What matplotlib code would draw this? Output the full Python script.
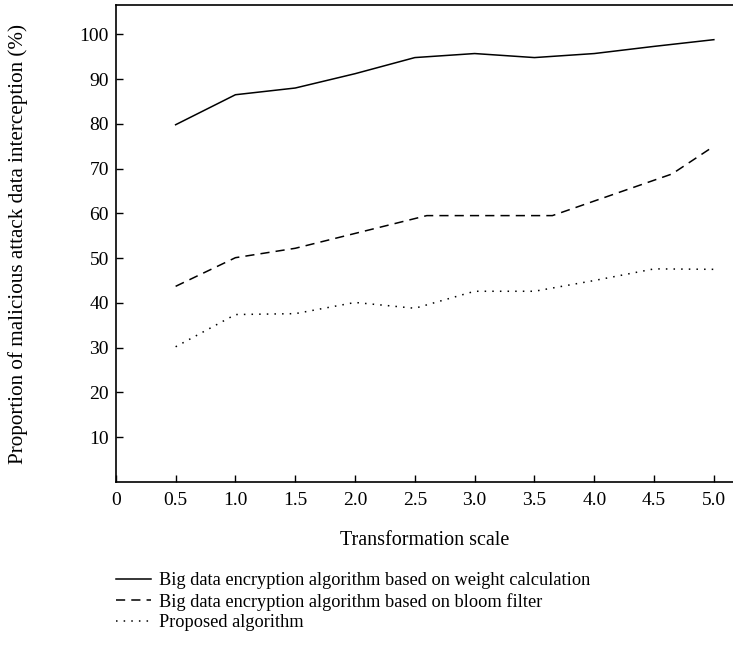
import matplotlib
matplotlib.use("Agg")
import matplotlib.pyplot as plt

plt.rcParams['font.family'] = ['Liberation Serif', 'DejaVu Serif']

# data
x_weight = [0.5, 1.0, 1.5, 2.0, 2.5, 3.0, 3.5, 4.0, 4.5, 5.0]
y_weight = [79.8, 86.5, 88.0, 91.2, 94.8, 95.7, 94.8, 95.7, 97.3, 98.8]

x_bloom = [0.5, 1.0, 1.5, 2.6, 3.65, 4.65, 5.0]
y_bloom = [43.7, 50.1, 52.2, 59.5, 59.5, 68.8, 75.0]

x_prop = [0.5, 1.0, 1.5, 2.0, 2.5, 3.0, 3.5, 4.0, 4.5, 5.0]
y_prop = [30.2, 37.4, 37.6, 40.1, 38.8, 42.6, 42.6, 45.0, 47.6, 47.5]

labels = ['Big data encryption algorithm based on weight calculation',
          'Big data encryption algorithm based on bloom filter',
          'Proposed algorithm']

xticks = [0, 0.5, 1.0, 1.5, 2.0, 2.5, 3.0, 3.5, 4.0, 4.5, 5.0]
xticklabels = ['0', '0.5', '1.0', '1.5', '2.0', '2.5', '3.0', '3.5', '4.0', '4.5', '5.0']
yticks = [10, 20, 30, 40, 50, 60, 70, 80, 90, 100]

fig = plt.figure(figsize=(7.33, 6.5), dpi=100)
ax = fig.add_axes([0.158, 0.2585, 0.842, 0.7335])

ax.plot(x_weight, y_weight, color='black', lw=1.1, label=labels[0])
ax.plot(x_bloom, y_bloom, color='black', lw=1.1, linestyle=(0, (6, 4)), label=labels[1])
ax.plot(x_prop, y_prop, color='black', lw=1.1, linestyle=(0, (1, 4)), label=labels[2])

ax.set_xlim(0, 5.16)
ax.set_ylim(0, 106.5)
ax.set_xticks(xticks)
ax.set_xticklabels(xticklabels)
ax.set_yticks(yticks)
ax.tick_params(direction='in', length=5, width=1, labelsize=14, colors='black')
ax.tick_params(axis='y', pad=5)
ax.tick_params(axis='x', pad=7)
ax.spines['right'].set_visible(False)
for s in ['left', 'bottom', 'top']:
    ax.spines[s].set_linewidth(1.2)

ax.set_xlabel('Transformation scale', fontsize=14.5)
ax.set_ylabel('Proportion of malicious attack data interception (%)', fontsize=15.2)
ax.xaxis.set_label_coords(0.5, -0.103)
ax.yaxis.set_label_coords(-0.143, 0.5)

fig.legend(loc='upper left', bbox_to_anchor=(0.146, 0.134), frameon=False,
           fontsize=13.2, handlelength=1.9, handletextpad=0.45, labelspacing=0.2, borderpad=0)

fig.savefig('out.png', dpi=100)
